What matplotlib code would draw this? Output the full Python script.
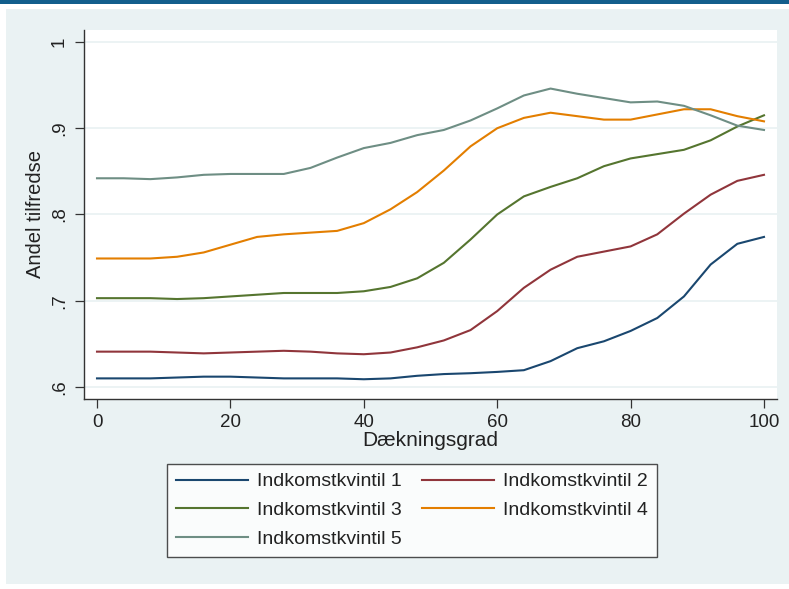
import matplotlib
matplotlib.use("Agg")
import matplotlib.pyplot as plt
from matplotlib.patches import Rectangle

plt.rcParams['font.family'] = ['Liberation Sans', 'DejaVu Sans']

# Dækningsgrad (x) and andel tilfredse per indkomstkvintil
daekningsgrad = [0, 4, 8, 12, 16, 20, 24, 28, 32, 36, 40, 44, 48, 52, 56,
                 60, 64, 68, 72, 76, 80, 84, 88, 92, 96, 100]
kvintil_1 = [.610, .610, .610, .611, .612, .612, .611, .610, .610, .610, .609,
             .610, .613, .615, .616, .6175, .6195, .630, .645, .653, .665,
             .680, .705, .742, .766, .774]
kvintil_2 = [.641, .641, .641, .640, .639, .640, .641, .642, .641, .639, .638,
             .640, .646, .654, .666, .688, .715, .736, .751, .757, .763, .777,
             .801, .823, .839, .846]
kvintil_3 = [.703, .703, .703, .702, .703, .705, .707, .709, .709, .709, .711,
             .716, .726, .744, .771, .800, .821, .832, .842, .856, .865, .870,
             .875, .886, .902, .915]
kvintil_4 = [.749, .749, .749, .751, .756, .765, .774, .777, .779, .781, .790,
             .806, .826, .851, .879, .900, .912, .918, .914, .910, .910, .916,
             .922, .922, .914, .908]
kvintil_5 = [.842, .842, .841, .843, .846, .847, .847, .847, .854, .866, .877,
             .883, .892, .898, .909, .923, .938, .946, .940, .935, .930, .931,
             .926, .915, .903, .898]

labels = ["Indkomstkvintil 1", "Indkomstkvintil 2", "Indkomstkvintil 3",
          "Indkomstkvintil 4", "Indkomstkvintil 5"]
colors = ["#1A476F", "#90353B", "#55752F", "#E37E00", "#6E8E84"]
series = [kvintil_1, kvintil_2, kvintil_3, kvintil_4, kvintil_5]

y_ticks = [0.6, 0.7, 0.8, 0.9, 1.0]
y_ticklabels = [".6", ".7", ".8", ".9", "1"]
x_ticks = [0, 20, 40, 60, 80, 100]

W, H = 789, 589
fig = plt.figure(figsize=(W / 100, H / 100), dpi=100)
fig.patch.set_facecolor("white")

# Frame: dark top band and light graph region
fig.add_artist(Rectangle((0, 1 - 3.5 / H), 1, 3.5 / H, transform=fig.transFigure,
                         facecolor="#125E8C", edgecolor="none", zorder=0))
fig.add_artist(Rectangle((6 / W, 1 - 584 / H), 1 - 6 / W, (584 - 9) / H,
                         transform=fig.transFigure, facecolor="#EAF2F3",
                         edgecolor="none", zorder=0))

ax = fig.add_axes([84 / W, 1 - 399 / H, (777 - 84) / W, (399 - 30) / H])
ax.set_facecolor("white")

handles = []
for vals, lab, col in zip(series, labels, colors):
    h, = ax.plot(daekningsgrad, vals, color=col, lw=1.5, label=lab, zorder=3)
    handles.append(h)

ax.set_xlim(-1.95, 101.95)
ax.set_ylim(0.5861, 1.0139)
ax.set_yticks(y_ticks)
ax.set_yticklabels(y_ticklabels, rotation=90, va="center")
ax.set_xticks(x_ticks)

ax.grid(axis="y", color="#EAF2F3", lw=1.3, zorder=1)
ax.set_axisbelow(True)

for s in ["top", "right"]:
    ax.spines[s].set_visible(False)
for s in ["left", "bottom"]:
    ax.spines[s].set_color("#333333")
    ax.spines[s].set_linewidth(1.0)

ax.tick_params(axis="both", direction="out", length=6.5, width=0.9,
               color="#333333", labelsize=13.5, labelcolor="#222222")
ax.tick_params(axis="y", pad=5)
ax.tick_params(axis="x", pad=4)

ax.set_xlabel("Dækningsgrad", fontsize=15, color="#222222", labelpad=0)
ax.set_ylabel("Andel tilfredse", fontsize=14.5, color="#222222", labelpad=4)

order = [0, 2, 4, 1, 3]
leg = fig.legend([handles[i] for i in order], [labels[i] for i in order],
                 ncol=2, loc="upper left",
                 bbox_to_anchor=(167 / W, 1 - 464 / H),
                 frameon=True, fancybox=False,
                 fontsize=14, handlelength=3.7, handletextpad=0.5,
                 labelspacing=0.58, borderpad=0.45, borderaxespad=0,
                 columnspacing=1.0)
leg.get_frame().set_edgecolor("#222222")
leg.get_frame().set_linewidth(1.0)
leg.get_frame().set_facecolor("white")
for t in leg.get_texts():
    t.set_color("#222222")

fig.savefig("out.png", dpi=100, facecolor=fig.get_facecolor())
